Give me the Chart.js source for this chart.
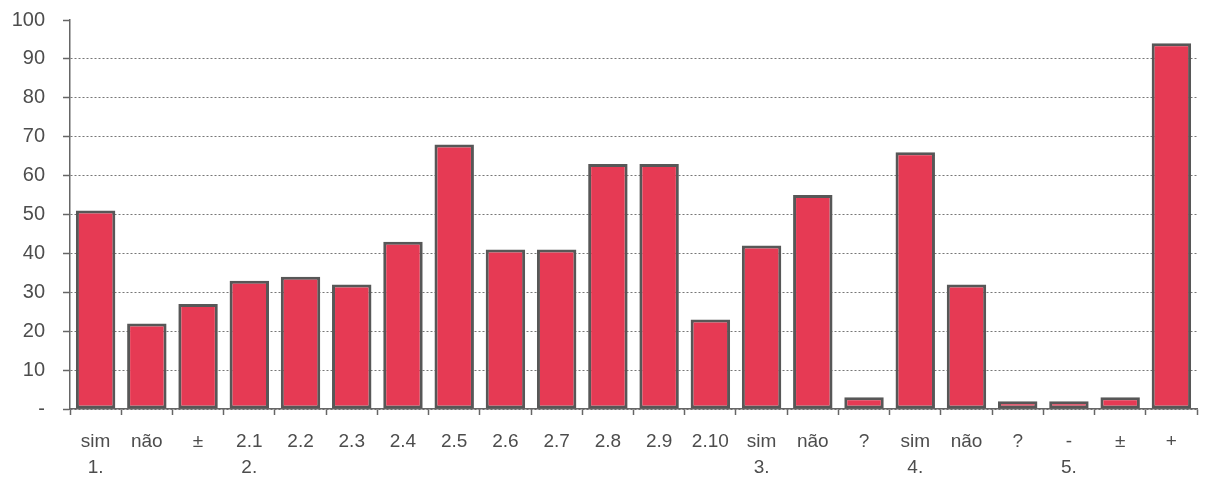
<!DOCTYPE html>
<html>
<head>
<meta charset="utf-8">
<script src="https://cdn.jsdelivr.net/npm/chart.js@4/dist/chart.umd.min.js"></script>
<style>
  html, body { margin: 0; padding: 0; background: #fff; }
  #wrap { width: 1205px; height: 481px; }
</style>
</head>
<body>
<div id="wrap"><canvas id="myChart" width="1205" height="481"></canvas></div>
<script>
// category labels: first row and group row underneath
const topLabels = ['sim', 'não', '±', '2.1', '2.2', '2.3', '2.4', '2.5', '2.6', '2.7', '2.8', '2.9', '2.10',
                   'sim', 'não', '?', 'sim', 'não', '?', '-', '±', '+'];
const groupLabels = ['1.', '', '', '2.', '', '', '', '', '', '', '', '', '',
                     '3.', '', '', '4.', '', '', '5.', '', ''];
const values = [51, 22, 27, 33, 34, 32, 43, 68, 41, 41, 63, 63, 23, 42, 55, 3, 66, 32, 2, 2, 3, 94];
const yTickLabels = ['-', '10', '20', '30', '40', '50', '60', '70', '80', '90', '100'];

const labels = topLabels.map((t, i) => [t, groupLabels[i]]);

const ctx = document.getElementById('myChart').getContext('2d');
const myChart = new Chart(ctx, {
  type: 'bar',
  data: {
    labels: labels,
    datasets: [{
      data: values,
      backgroundColor: '#e63a54',
      borderColor: '#575757',
      borderWidth: 3,
      borderSkipped: false,
      barPercentage: 0.77,
      categoryPercentage: 1
    }]
  },
  options: {
    responsive: false,
    animation: false,
    layout: { padding: { top: 0, right: 8, left: 0, bottom: 0 } },
    plugins: { legend: { display: false }, tooltip: { enabled: false } },
    scales: {
      x: {
        grid: {
          offset: true,
          drawOnChartArea: false,
          drawTicks: true,
          tickLength: 6,
          tickColor: '#666',
          tickWidth: 1.5
        },
        border: { color: '#666', width: 1.5 },
        ticks: {
          color: '#4d4d4d',
          font: { family: "'Liberation Sans', Arial, sans-serif", size: 19, lineHeight: 1.35 },
          maxRotation: 0,
          autoSkip: false,
          padding: 14
        },
        afterFit: (scale) => { scale.height = 72; }
      },
      y: {
        min: 0,
        max: 100,
        ticks: {
          stepSize: 10,
          color: '#4d4d4d',
          font: { family: "'Liberation Sans', Arial, sans-serif", size: 20 },
          padding: 18,
          callback: (v, i) => yTickLabels[i]
        },
        grid: {
          color: (c) => (c.tick && c.tick.value === 100) ? 'rgba(0,0,0,0)' : '#777',
          lineWidth: 1,
          tickLength: 7,
          tickColor: '#666',
          tickWidth: 1.5
        },
        border: { color: '#666', width: 1.5, dash: [2, 2] },
        afterFit: (scale) => { scale.width = 70; scale.paddingTop = 20; }
      }
    }
  }
});
</script>
</body>
</html>
